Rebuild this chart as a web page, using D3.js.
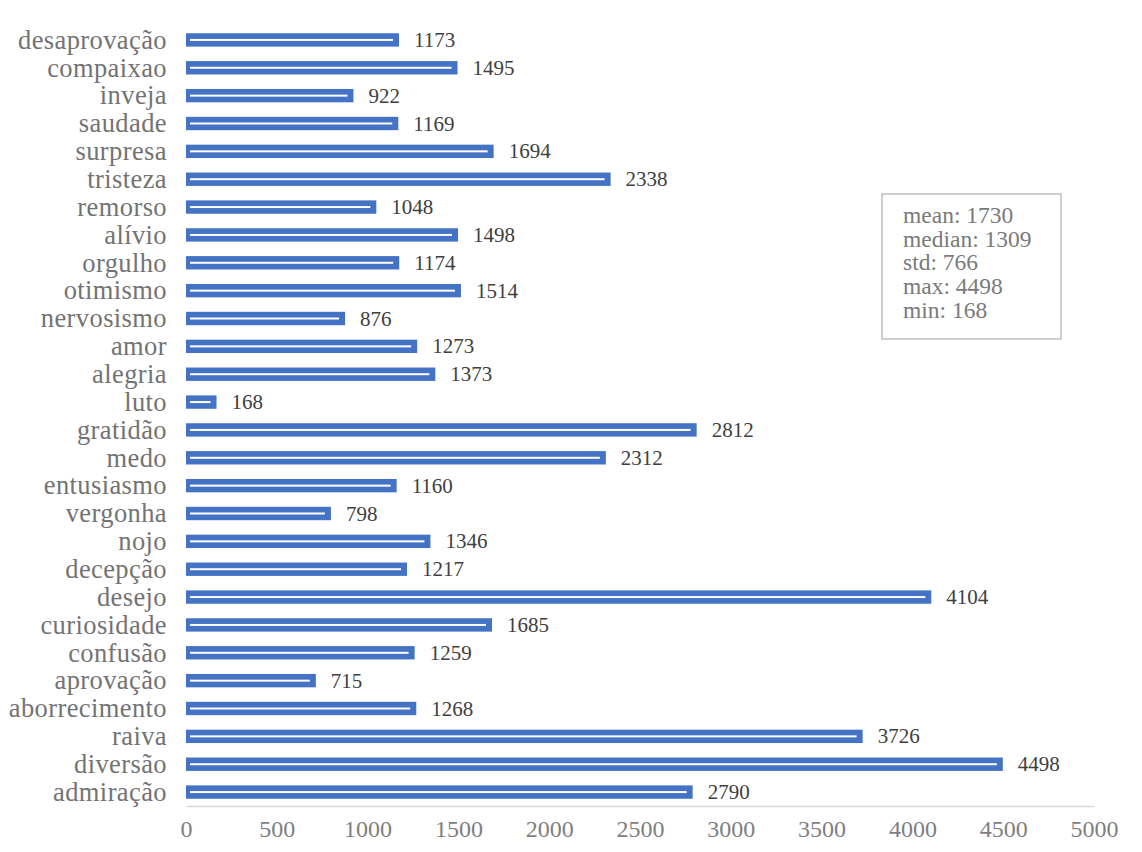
<!DOCTYPE html>
<html><head><meta charset="utf-8">
<script src="https://cdn.jsdelivr.net/npm/d3@7"></script>
<style>body{margin:0;background:#fff}svg{display:block}</style>
</head><body>
<svg id="c" width="1142" height="852"></svg>
<script>
const categories = ["desaprovação","compaixao","inveja","saudade","surpresa","tristeza","remorso","alívio","orgulho","otimismo","nervosismo","amor","alegria","luto","gratidão","medo","entusiasmo","vergonha","nojo","decepção","desejo","curiosidade","confusão","aprovação","aborrecimento","raiva","diversão","admiração"];
const values = [1173,1495,922,1169,1694,2338,1048,1498,1174,1514,876,1273,1373,168,2812,2312,1160,798,1346,1217,4104,1685,1259,715,1268,3726,4498,2790];
const xTicks = [0,500,1000,1500,2000,2500,3000,3500,4000,4500,5000];
const statLines = ["mean: 1730","median: 1309","std: 766","max: 4498","min: 168"];

const svg = d3.select("#c");
const FONT = "'Liberation Serif','Times New Roman',serif";
const x = d3.scaleLinear().domain([0,5000]).range([186,1094]);
const y = d3.scaleBand().domain(categories).range([26,806]).paddingInner(0.52).paddingOuter(0.26);

// axis
const ax = svg.append("g").attr("transform","translate(0,806)")
  .call(d3.axisBottom(x).tickValues(xTicks).tickSize(0).tickPadding(0).tickFormat(d3.format("d")));
ax.select(".domain").attr("stroke","#d9d9d9").attr("stroke-width",1.5);
ax.selectAll("text").attr("font-family",FONT).attr("font-size",24).attr("fill","#7f7f7f").attr("dy",null).attr("y",31);

// bars
const rows = svg.append("g").selectAll("g").data(categories).join("g");
rows.append("rect").attr("x",x(0)).attr("y",d=>y(d)).attr("height",y.bandwidth())
  .attr("width",(d,i)=>x(values[i])-x(0)).attr("fill","#4472c4");
rows.append("rect").attr("x",x(0)+4).attr("y",d=>y(d)+y.bandwidth()/2-1).attr("height",2)
  .attr("width",(d,i)=>Math.max(0,x(values[i])-x(0)-10)).attr("fill","#fff");
rows.append("text").attr("x",(d,i)=>x(values[i])+15).attr("y",d=>y(d)+y.bandwidth()/2+7)
  .attr("font-family",FONT).attr("font-size",21).attr("fill","#404040").text((d,i)=>values[i]);

// category labels
const yAxis = svg.append("g").attr("transform","translate(167,0)")
  .call(d3.axisLeft(y).tickSize(0).tickPadding(0));
yAxis.select(".domain").remove();
yAxis.selectAll("text").attr("font-family",FONT).attr("font-size",26.5).attr("letter-spacing","0.4px")
  .attr("fill","#737373").attr("dy","0.33em");

// stats box
svg.append("rect").attr("x",882).attr("y",194).attr("width",179).attr("height",145)
  .attr("fill","#fff").attr("stroke","#bfbfbf").attr("stroke-width",1.5);
svg.append("g").selectAll("text").data(statLines).join("text")
  .attr("x",903).attr("y",(d,i)=>223+i*23.7)
  .attr("font-family",FONT).attr("font-size",23.5).attr("fill","#7a7a7a").text(d=>d);
</script>
</body></html>
